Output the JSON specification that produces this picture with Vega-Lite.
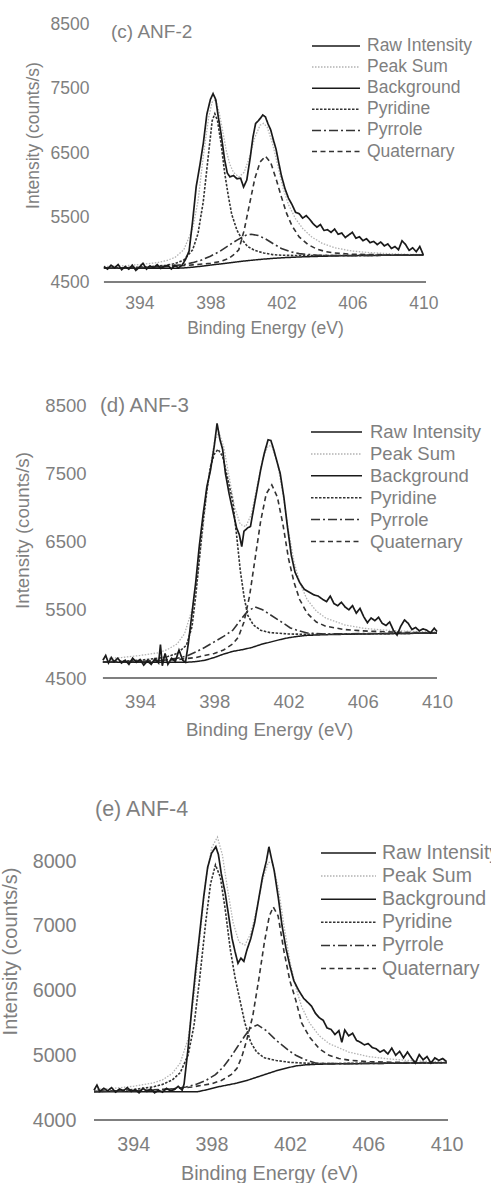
{
"$schema":"https://vega.github.io/schema/vega-lite/v6.json",
"background":"white",
"padding":{"left":0,"top":15,"right":0,"bottom":0},
"bounds":"flush",
"spacing":123,
"config":{"view":{"stroke":null},"font":"Liberation Sans"},
"resolve":{"scale":{"x":"independent","y":"independent","color":"independent","strokeDash":"independent"},"legend":{"color":"independent","strokeDash":"independent"}},
"datasets":{
"cR":[{"x":392,"y":4740},{"x":392.2,"y":4700},{"x":392.4,"y":4760},{"x":392.6,"y":4720},{"x":392.8,"y":4770},{"x":393,"y":4690},{"x":393.2,"y":4740},{"x":393.4,"y":4700},{"x":393.6,"y":4760},{"x":393.8,"y":4680},{"x":394,"y":4730},{"x":394.2,"y":4790},{"x":394.4,"y":4700},{"x":394.6,"y":4750},{"x":394.8,"y":4720},{"x":395,"y":4770},{"x":395.2,"y":4710},{"x":395.4,"y":4740},{"x":395.6,"y":4760},{"x":395.8,"y":4700},{"x":396,"y":4760},{"x":396.2,"y":4720},{"x":396.4,"y":4760},{"x":396.6,"y":4850},{"x":396.8,"y":4980},{"x":397,"y":5450},{"x":397.2,"y":5980},{"x":397.4,"y":6300},{"x":397.6,"y":6650},{"x":397.8,"y":7100},{"x":398,"y":7330},{"x":398.15,"y":7420},{"x":398.3,"y":7330},{"x":398.45,"y":7050},{"x":398.6,"y":6800},{"x":398.8,"y":6400},{"x":398.95,"y":6190},{"x":399.1,"y":6130},{"x":399.3,"y":6150},{"x":399.5,"y":6100},{"x":399.7,"y":6110},{"x":399.87,"y":5973},{"x":400.05,"y":6080},{"x":400.25,"y":6440},{"x":400.4,"y":6750},{"x":400.55,"y":6960},{"x":400.7,"y":7000},{"x":400.85,"y":7050},{"x":400.95,"y":7090},{"x":401.1,"y":7060},{"x":401.25,"y":6950},{"x":401.4,"y":6857},{"x":401.55,"y":6700},{"x":401.7,"y":6560},{"x":401.85,"y":6350},{"x":402,"y":6150},{"x":402.2,"y":5950},{"x":402.4,"y":5800},{"x":402.6,"y":5700},{"x":402.8,"y":5580},{"x":403,"y":5560},{"x":403.2,"y":5490},{"x":403.4,"y":5530},{"x":403.6,"y":5470},{"x":403.8,"y":5400},{"x":404,"y":5350},{"x":404.2,"y":5390},{"x":404.4,"y":5300},{"x":404.6,"y":5310},{"x":404.8,"y":5270},{"x":405,"y":5320},{"x":405.2,"y":5240},{"x":405.4,"y":5260},{"x":405.6,"y":5190},{"x":405.8,"y":5230},{"x":406,"y":5270},{"x":406.2,"y":5180},{"x":406.4,"y":5200},{"x":406.6,"y":5140},{"x":406.8,"y":5170},{"x":407,"y":5110},{"x":407.2,"y":5130},{"x":407.4,"y":5080},{"x":407.6,"y":5120},{"x":407.8,"y":5060},{"x":408,"y":5090},{"x":408.2,"y":5020},{"x":408.4,"y":5050},{"x":408.6,"y":5000},{"x":408.8,"y":5140},{"x":409,"y":5080},{"x":409.2,"y":4990},{"x":409.4,"y":5030},{"x":409.6,"y":4970},{"x":409.8,"y":5050},{"x":410,"y":4920}],
"cP":[{"x":392,"y":4740},{"x":393,"y":4750},{"x":394,"y":4770},{"x":395,"y":4800},{"x":395.5,"y":4830},{"x":396,"y":4880},{"x":396.5,"y":5000},{"x":397,"y":5330},{"x":397.3,"y":5750},{"x":397.6,"y":6450},{"x":397.9,"y":7050},{"x":398.1,"y":7290},{"x":398.3,"y":7330},{"x":398.5,"y":7120},{"x":398.7,"y":6830},{"x":398.9,"y":6530},{"x":399.1,"y":6320},{"x":399.3,"y":6200},{"x":399.6,"y":6130},{"x":399.9,"y":6200},{"x":400.2,"y":6430},{"x":400.5,"y":6740},{"x":400.8,"y":6930},{"x":401,"y":6960},{"x":401.2,"y":6900},{"x":401.5,"y":6650},{"x":401.8,"y":6300},{"x":402.1,"y":5950},{"x":402.4,"y":5700},{"x":402.8,"y":5480},{"x":403.2,"y":5330},{"x":403.7,"y":5200},{"x":404.3,"y":5100},{"x":405,"y":5030},{"x":406,"y":4980},{"x":407,"y":4955},{"x":408,"y":4940},{"x":409,"y":4930},{"x":410,"y":4925}],
"cB":[{"x":392,"y":4712},{"x":396,"y":4712},{"x":396.5,"y":4718},{"x":397,"y":4730},{"x":397.5,"y":4745},{"x":398,"y":4762},{"x":398.5,"y":4778},{"x":399,"y":4795},{"x":399.5,"y":4812},{"x":400,"y":4828},{"x":400.5,"y":4842},{"x":401,"y":4855},{"x":401.5,"y":4866},{"x":402,"y":4875},{"x":403,"y":4888},{"x":404,"y":4897},{"x":405,"y":4904},{"x":406,"y":4908},{"x":408,"y":4914},{"x":410,"y":4918}],
"cPy":[{"x":392,"y":4715},{"x":393,"y":4720},{"x":394,"y":4730},{"x":395,"y":4745},{"x":395.5,"y":4760},{"x":396,"y":4785},{"x":396.5,"y":4840},{"x":397,"y":5000},{"x":397.3,"y":5250},{"x":397.6,"y":5750},{"x":397.9,"y":6500},{"x":398.1,"y":7000},{"x":398.25,"y":7110},{"x":398.4,"y":7000},{"x":398.6,"y":6650},{"x":398.8,"y":6200},{"x":399,"y":5850},{"x":399.2,"y":5550},{"x":399.5,"y":5300},{"x":399.8,"y":5150},{"x":400.1,"y":5050},{"x":400.5,"y":4990},{"x":401,"y":4950},{"x":401.5,"y":4925},{"x":402,"y":4915},{"x":403,"y":4910},{"x":404,"y":4910},{"x":406,"y":4912},{"x":410,"y":4918}],
"cPr":[{"x":392,"y":4714},{"x":394,"y":4722},{"x":395,"y":4735},{"x":396,"y":4755},{"x":396.5,"y":4770},{"x":397,"y":4800},{"x":397.5,"y":4840},{"x":398,"y":4900},{"x":398.5,"y":4970},{"x":399,"y":5060},{"x":399.5,"y":5150},{"x":400,"y":5225},{"x":400.3,"y":5240},{"x":400.7,"y":5220},{"x":401.1,"y":5170},{"x":401.5,"y":5100},{"x":402,"y":5020},{"x":402.5,"y":4970},{"x":403,"y":4940},{"x":404,"y":4915},{"x":405,"y":4910},{"x":406,"y":4911},{"x":410,"y":4918}],
"cQ":[{"x":392,"y":4715},{"x":394,"y":4725},{"x":396,"y":4745},{"x":397,"y":4765},{"x":398,"y":4790},{"x":398.5,"y":4815},{"x":399,"y":4860},{"x":399.3,"y":4920},{"x":399.6,"y":5000},{"x":399.9,"y":5300},{"x":400.2,"y":5700},{"x":400.5,"y":6100},{"x":400.8,"y":6360},{"x":401.1,"y":6450},{"x":401.4,"y":6350},{"x":401.7,"y":6100},{"x":402,"y":5820},{"x":402.3,"y":5560},{"x":402.6,"y":5370},{"x":403,"y":5200},{"x":403.5,"y":5080},{"x":404,"y":5010},{"x":404.5,"y":4970},{"x":405,"y":4950},{"x":406,"y":4930},{"x":407,"y":4925},{"x":408,"y":4922},{"x":410,"y":4918}],
"dR":[{"x":392,"y":4760},{"x":392.15,"y":4830},{"x":392.3,"y":4720},{"x":392.45,"y":4800},{"x":392.6,"y":4740},{"x":392.8,"y":4790},{"x":393,"y":4720},{"x":393.2,"y":4760},{"x":393.4,"y":4700},{"x":393.6,"y":4790},{"x":393.8,"y":4730},{"x":394,"y":4770},{"x":394.2,"y":4690},{"x":394.4,"y":4750},{"x":394.6,"y":4700},{"x":394.8,"y":4780},{"x":395,"y":4720},{"x":395.1,"y":4990},{"x":395.2,"y":4680},{"x":395.35,"y":4860},{"x":395.5,"y":4700},{"x":395.7,"y":4790},{"x":395.9,"y":4740},{"x":396.1,"y":4910},{"x":396.3,"y":4760},{"x":396.45,"y":4730},{"x":396.6,"y":5000},{"x":396.8,"y":5450},{"x":397,"y":5900},{"x":397.2,"y":6450},{"x":397.4,"y":6900},{"x":397.6,"y":7300},{"x":397.8,"y":7550},{"x":398,"y":7900},{"x":398.15,"y":8230},{"x":398.3,"y":8000},{"x":398.45,"y":7850},{"x":398.6,"y":7500},{"x":398.8,"y":7200},{"x":399,"y":6950},{"x":399.2,"y":6700},{"x":399.35,"y":6600},{"x":399.48,"y":6424},{"x":399.6,"y":6650},{"x":399.8,"y":6700},{"x":399.95,"y":6720},{"x":400.1,"y":6950},{"x":400.3,"y":7250},{"x":400.5,"y":7550},{"x":400.7,"y":7800},{"x":400.9,"y":7990},{"x":401.05,"y":7980},{"x":401.2,"y":7850},{"x":401.4,"y":7650},{"x":401.55,"y":7500},{"x":401.75,"y":7150},{"x":401.95,"y":6700},{"x":402.15,"y":6300},{"x":402.35,"y":6050},{"x":402.6,"y":5900},{"x":402.85,"y":5800},{"x":403.1,"y":5760},{"x":403.35,"y":5720},{"x":403.6,"y":5700},{"x":403.85,"y":5650},{"x":404.05,"y":5620},{"x":404.25,"y":5700},{"x":404.45,"y":5590},{"x":404.65,"y":5560},{"x":404.85,"y":5610},{"x":405.05,"y":5540},{"x":405.25,"y":5500},{"x":405.45,"y":5560},{"x":405.65,"y":5450},{"x":405.85,"y":5520},{"x":406.05,"y":5400},{"x":406.25,"y":5310},{"x":406.45,"y":5380},{"x":406.65,"y":5340},{"x":406.85,"y":5390},{"x":407.05,"y":5300},{"x":407.25,"y":5270},{"x":407.45,"y":5320},{"x":407.65,"y":5200},{"x":407.85,"y":5130},{"x":408.05,"y":5260},{"x":408.25,"y":5350},{"x":408.45,"y":5300},{"x":408.65,"y":5210},{"x":408.85,"y":5240},{"x":409.05,"y":5190},{"x":409.25,"y":5220},{"x":409.45,"y":5200},{"x":409.65,"y":5160},{"x":409.85,"y":5230},{"x":410,"y":5180}],
"dP":[{"x":392,"y":4780},{"x":393,"y":4800},{"x":394,"y":4830},{"x":395,"y":4870},{"x":395.5,"y":4920},{"x":396,"y":5000},{"x":396.4,"y":5150},{"x":396.8,"y":5500},{"x":397.1,"y":6000},{"x":397.4,"y":6700},{"x":397.7,"y":7450},{"x":398,"y":7950},{"x":398.25,"y":8100},{"x":398.5,"y":7900},{"x":398.8,"y":7450},{"x":399.1,"y":7000},{"x":399.4,"y":6750},{"x":399.7,"y":6720},{"x":400,"y":6900},{"x":400.3,"y":7300},{"x":400.6,"y":7700},{"x":400.9,"y":7900},{"x":401.1,"y":7900},{"x":401.4,"y":7650},{"x":401.7,"y":7200},{"x":402,"y":6650},{"x":402.3,"y":6200},{"x":402.6,"y":5900},{"x":403,"y":5650},{"x":403.5,"y":5480},{"x":404,"y":5380},{"x":405,"y":5280},{"x":406,"y":5230},{"x":407,"y":5205},{"x":408,"y":5190},{"x":409,"y":5180},{"x":410,"y":5175}],
"dB":[{"x":392,"y":4730},{"x":396.5,"y":4730},{"x":397,"y":4740},{"x":397.5,"y":4760},{"x":398,"y":4800},{"x":398.5,"y":4850},{"x":399,"y":4890},{"x":399.5,"y":4915},{"x":400,"y":4945},{"x":400.5,"y":4990},{"x":401,"y":5025},{"x":401.5,"y":5060},{"x":402,"y":5090},{"x":402.5,"y":5110},{"x":403,"y":5125},{"x":404,"y":5135},{"x":406,"y":5145},{"x":408,"y":5152},{"x":410,"y":5158}],
"dPy":[{"x":392,"y":4735},{"x":393,"y":4745},{"x":394,"y":4760},{"x":395,"y":4790},{"x":395.5,"y":4815},{"x":396,"y":4860},{"x":396.5,"y":4980},{"x":396.8,"y":5250},{"x":397,"y":5700},{"x":397.2,"y":6250},{"x":397.4,"y":6800},{"x":397.6,"y":7250},{"x":397.8,"y":7600},{"x":398,"y":7780},{"x":398.2,"y":7850},{"x":398.45,"y":7750},{"x":398.7,"y":7450},{"x":399,"y":7080},{"x":399.2,"y":6600},{"x":399.4,"y":6080},{"x":399.6,"y":5700},{"x":399.8,"y":5420},{"x":400.1,"y":5280},{"x":400.5,"y":5200},{"x":401,"y":5165},{"x":401.5,"y":5155},{"x":402,"y":5145},{"x":403,"y":5140},{"x":404,"y":5140},{"x":406,"y":5147},{"x":410,"y":5158}],
"dPr":[{"x":392,"y":4733},{"x":394,"y":4740},{"x":395,"y":4752},{"x":396,"y":4790},{"x":396.5,"y":4820},{"x":397,"y":4880},{"x":397.5,"y":4950},{"x":398,"y":5030},{"x":398.5,"y":5110},{"x":399,"y":5200},{"x":399.5,"y":5380},{"x":399.8,"y":5480},{"x":400.2,"y":5540},{"x":400.6,"y":5500},{"x":401,"y":5430},{"x":401.4,"y":5360},{"x":401.8,"y":5290},{"x":402.1,"y":5233},{"x":402.5,"y":5195},{"x":403,"y":5160},{"x":404,"y":5145},{"x":406,"y":5150},{"x":410,"y":5158}],
"dQ":[{"x":392,"y":4735},{"x":394,"y":4745},{"x":396,"y":4770},{"x":397,"y":4800},{"x":398,"y":4860},{"x":398.5,"y":4910},{"x":399,"y":5000},{"x":399.3,"y":5100},{"x":399.6,"y":5320},{"x":399.9,"y":5700},{"x":400.2,"y":6250},{"x":400.5,"y":6800},{"x":400.8,"y":7200},{"x":401.1,"y":7330},{"x":401.4,"y":7150},{"x":401.7,"y":6750},{"x":402,"y":6250},{"x":402.3,"y":5900},{"x":402.6,"y":5650},{"x":403,"y":5450},{"x":403.5,"y":5320},{"x":404,"y":5260},{"x":405,"y":5210},{"x":406,"y":5190},{"x":408,"y":5170},{"x":410,"y":5160}],
"eR":[{"x":392,"y":4460},{"x":392.15,"y":4540},{"x":392.3,"y":4440},{"x":392.5,"y":4490},{"x":392.7,"y":4450},{"x":392.9,"y":4500},{"x":393.1,"y":4430},{"x":393.3,"y":4480},{"x":393.5,"y":4450},{"x":393.7,"y":4500},{"x":393.9,"y":4440},{"x":394.1,"y":4470},{"x":394.3,"y":4420},{"x":394.5,"y":4490},{"x":394.7,"y":4440},{"x":394.9,"y":4480},{"x":395.1,"y":4420},{"x":395.3,"y":4460},{"x":395.5,"y":4430},{"x":395.7,"y":4490},{"x":395.9,"y":4450},{"x":396.1,"y":4470},{"x":396.3,"y":4520},{"x":396.5,"y":4460},{"x":396.6,"y":4560},{"x":396.8,"y":5100},{"x":397,"y":5750},{"x":397.2,"y":6350},{"x":397.4,"y":6900},{"x":397.6,"y":7450},{"x":397.8,"y":7900},{"x":398,"y":8120},{"x":398.22,"y":8220},{"x":398.35,"y":8100},{"x":398.5,"y":7800},{"x":398.7,"y":7500},{"x":398.9,"y":7100},{"x":399.05,"y":6800},{"x":399.2,"y":6600},{"x":399.35,"y":6420},{"x":399.5,"y":6500},{"x":399.65,"y":6450},{"x":399.8,"y":6620},{"x":400,"y":6800},{"x":400.2,"y":7050},{"x":400.4,"y":7400},{"x":400.6,"y":7750},{"x":400.8,"y":8000},{"x":400.93,"y":8220},{"x":401.05,"y":8050},{"x":401.2,"y":7850},{"x":401.4,"y":7450},{"x":401.6,"y":7000},{"x":401.8,"y":6650},{"x":402,"y":6380},{"x":402.2,"y":6150},{"x":402.45,"y":6000},{"x":402.7,"y":5880},{"x":402.9,"y":5820},{"x":403.1,"y":5760},{"x":403.3,"y":5650},{"x":403.5,"y":5580},{"x":403.7,"y":5540},{"x":403.9,"y":5420},{"x":404.1,"y":5400},{"x":404.3,"y":5320},{"x":404.5,"y":5380},{"x":404.65,"y":5200},{"x":404.8,"y":5390},{"x":405,"y":5300},{"x":405.2,"y":5340},{"x":405.4,"y":5230},{"x":405.6,"y":5200},{"x":405.8,"y":5160},{"x":406,"y":5180},{"x":406.2,"y":5120},{"x":406.4,"y":5100},{"x":406.6,"y":5050},{"x":406.8,"y":5080},{"x":407,"y":5020},{"x":407.2,"y":5110},{"x":407.4,"y":5000},{"x":407.6,"y":5060},{"x":407.8,"y":4960},{"x":408,"y":5050},{"x":408.2,"y":4960},{"x":408.4,"y":4880},{"x":408.6,"y":5010},{"x":408.8,"y":4930},{"x":409,"y":4980},{"x":409.2,"y":4880},{"x":409.4,"y":4960},{"x":409.6,"y":4920},{"x":409.8,"y":4950},{"x":410,"y":4900}],
"eP":[{"x":392,"y":4470},{"x":393,"y":4490},{"x":394,"y":4520},{"x":395,"y":4570},{"x":395.5,"y":4620},{"x":396,"y":4720},{"x":396.4,"y":4880},{"x":396.8,"y":5250},{"x":397.1,"y":5900},{"x":397.4,"y":6800},{"x":397.7,"y":7700},{"x":398,"y":8200},{"x":398.3,"y":8370},{"x":398.55,"y":8100},{"x":398.8,"y":7600},{"x":399.1,"y":7050},{"x":399.4,"y":6750},{"x":399.7,"y":6700},{"x":400,"y":6880},{"x":400.3,"y":7250},{"x":400.6,"y":7700},{"x":400.9,"y":7980},{"x":401.1,"y":7980},{"x":401.4,"y":7600},{"x":401.7,"y":7000},{"x":402,"y":6450},{"x":402.3,"y":6050},{"x":402.6,"y":5750},{"x":403,"y":5500},{"x":403.5,"y":5300},{"x":404,"y":5180},{"x":405,"y":5050},{"x":406,"y":4980},{"x":407,"y":4945},{"x":408,"y":4920},{"x":409,"y":4905},{"x":410,"y":4895}],
"eB":[{"x":392,"y":4438},{"x":397.3,"y":4438},{"x":397.8,"y":4470},{"x":398.3,"y":4510},{"x":398.8,"y":4540},{"x":399.3,"y":4570},{"x":399.8,"y":4610},{"x":400.3,"y":4660},{"x":400.8,"y":4710},{"x":401.3,"y":4760},{"x":401.8,"y":4800},{"x":402.3,"y":4835},{"x":402.8,"y":4852},{"x":403.5,"y":4862},{"x":404.5,"y":4868},{"x":406,"y":4872},{"x":410,"y":4885}],
"ePy":[{"x":392,"y":4440},{"x":393,"y":4450},{"x":394,"y":4470},{"x":395,"y":4510},{"x":395.5,"y":4550},{"x":396,"y":4620},{"x":396.4,"y":4730},{"x":396.8,"y":5000},{"x":397.1,"y":5450},{"x":397.4,"y":6200},{"x":397.7,"y":7050},{"x":397.95,"y":7650},{"x":398.2,"y":7940},{"x":398.45,"y":7750},{"x":398.7,"y":7250},{"x":398.95,"y":6650},{"x":399.2,"y":6200},{"x":399.45,"y":5850},{"x":399.7,"y":5500},{"x":400,"y":5200},{"x":400.3,"y":5050},{"x":400.7,"y":4960},{"x":401.3,"y":4920},{"x":402,"y":4890},{"x":403,"y":4875},{"x":404,"y":4872},{"x":406,"y":4876},{"x":410,"y":4885}],
"ePr":[{"x":392,"y":4440},{"x":394,"y":4450},{"x":395,"y":4460},{"x":396,"y":4480},{"x":396.7,"y":4510},{"x":397.2,"y":4550},{"x":397.7,"y":4610},{"x":398.2,"y":4700},{"x":398.6,"y":4820},{"x":399,"y":4980},{"x":399.3,"y":5120},{"x":399.7,"y":5300},{"x":400,"y":5420},{"x":400.35,"y":5470},{"x":400.8,"y":5380},{"x":401.2,"y":5260},{"x":401.5,"y":5180},{"x":402,"y":5060},{"x":402.3,"y":5000},{"x":402.7,"y":4940},{"x":403.3,"y":4880},{"x":404,"y":4870},{"x":406,"y":4874},{"x":410,"y":4885}],
"eQ":[{"x":392,"y":4440},{"x":394,"y":4450},{"x":396,"y":4480},{"x":397,"y":4510},{"x":398,"y":4560},{"x":398.5,"y":4610},{"x":399,"y":4700},{"x":399.3,"y":4800},{"x":399.55,"y":4980},{"x":399.8,"y":5240},{"x":400.1,"y":5600},{"x":400.4,"y":6150},{"x":400.7,"y":6750},{"x":400.95,"y":7150},{"x":401.15,"y":7290},{"x":401.4,"y":7150},{"x":401.7,"y":6600},{"x":402,"y":6150},{"x":402.3,"y":5850},{"x":402.6,"y":5500},{"x":403,"y":5280},{"x":403.5,"y":5100},{"x":404,"y":5000},{"x":404.5,"y":4950},{"x":405,"y":4925},{"x":406,"y":4900},{"x":408,"y":4888},{"x":410,"y":4885}]
},
"vconcat":[
{
"width":332,"height":258,
"title":{"text":"(c) ANF-2","anchor":"start","frame":"group","offset":0,"baseline":"middle","dx":17,"dy":36,"fontSize":19,"fontWeight":"normal","color":"#7f7f7f","font":"Liberation Sans"},
"encoding":{
"x":{"field":"x","type":"quantitative","scale":{"domain":[391.44,410.15],"nice":false,"zero":false},"axis":{"values":[394,398,402,406,410],"format":"d","domain":false,"ticks":false,"tickSize":0,"grid":false,"labelFlush":false,"labelOverlap":false,"labelFontSize":17.5,"labelColor":"#7f7f7f","labelFont":"Liberation Sans","labelPadding":12.5,"title":"Binding Energy (eV)","titleFontSize":17.5,"titleColor":"#7f7f7f","titleFont":"Liberation Sans","titleFontWeight":"normal","titleX":171,"titleY":46,"titleAlign":"center","titleBaseline":"middle"}},
"y":{"field":"y","type":"quantitative","scale":{"domain":[4500,8500],"nice":false,"zero":false},"axis":{"values":[4500,5500,6500,7500,8500],"format":"d","domain":false,"ticks":false,"tickSize":0,"grid":false,"labelFlush":false,"labelFontSize":17.5,"labelColor":"#7f7f7f","labelFont":"Liberation Sans","labelPadding":5,"title":"Intensity (counts/s)","titleFontSize":17.5,"titleColor":"#7f7f7f","titleFont":"Liberation Sans","titleFontWeight":"normal","titleX":-61,"titleY":111,"titleAngle":-90,"titleAlign":"center","titleBaseline":"middle"}}
},
"layer":[
{"data":{"name":"cP"},"mark":{"type":"line","strokeWidth":1.3},"encoding":{
"color":{"datum":"Peak Sum","type":"nominal","scale":{"domain":["Raw Intensity","Peak Sum","Background","Pyridine","Pyrrole","Quaternary"],"range":["#1a1a1a","#b3b3b3","#1a1a1a","#333333","#333333","#333333"]},"legend":{"orient":"none","legendX":233.25,"legendY":13.25,"title":null,"padding":0,"symbolType":"M-4.8,0H4.8","symbolSize":100,"symbolStrokeWidth":1.5,"labelFontSize":17.5,"labelFont":"Liberation Sans","labelColor":"#7f7f7f","labelOffset":22.25,"rowPadding":2.1,"labelLimit":300}},
"strokeDash":{"datum":"Peak Sum","type":"nominal","scale":{"domain":["Raw Intensity","Peak Sum","Background","Pyridine","Pyrrole","Quaternary"],"range":[[1,0],[1.5,1.5],[1,0],[2.5,1.5],[9,3,2,3],[5,3.5]]},"legend":{"orient":"none","legendX":233.25,"legendY":13.25,"title":null,"padding":0,"symbolType":"M-4.8,0H4.8","symbolSize":100,"symbolStrokeWidth":1.5,"labelFontSize":17.5,"labelFont":"Liberation Sans","labelColor":"#7f7f7f","labelOffset":22.25,"rowPadding":2.1,"labelLimit":300}}}},
{"data":{"name":"cB"},"mark":{"type":"line","strokeWidth":1.5},"encoding":{"color":{"datum":"Background","type":"nominal"},"strokeDash":{"datum":"Background","type":"nominal"}}},
{"data":{"name":"cPy"},"mark":{"type":"line","strokeWidth":1.6},"encoding":{"color":{"datum":"Pyridine","type":"nominal"},"strokeDash":{"datum":"Pyridine","type":"nominal"}}},
{"data":{"name":"cPr"},"mark":{"type":"line","strokeWidth":1.6},"encoding":{"color":{"datum":"Pyrrole","type":"nominal"},"strokeDash":{"datum":"Pyrrole","type":"nominal"}}},
{"data":{"name":"cQ"},"mark":{"type":"line","strokeWidth":1.6},"encoding":{"color":{"datum":"Quaternary","type":"nominal"},"strokeDash":{"datum":"Quaternary","type":"nominal"}}},
{"data":{"name":"cR"},"mark":{"type":"line","strokeWidth":1.7},"encoding":{"color":{"datum":"Raw Intensity","type":"nominal"},"strokeDash":{"datum":"Raw Intensity","type":"nominal"}}},
{"data":{"values":[{"x":392,"x2":410.15,"y":4500}]},"mark":{"type":"rule","color":"#555555","strokeWidth":1.5},"encoding":{"x2":{"field":"x2"}}}
]
},
{
"width":343,"height":273,
"title":{"text":"(d) ANF-3","anchor":"start","frame":"group","offset":0,"baseline":"middle","dx":6,"dy":30,"fontSize":20.5,"fontWeight":"normal","color":"#7f7f7f","font":"Liberation Sans"},
"encoding":{
"x":{"field":"x","type":"quantitative","scale":{"domain":[391.52,410],"nice":false,"zero":false},"axis":{"values":[394,398,402,406,410],"format":"d","domain":false,"ticks":false,"tickSize":0,"grid":false,"labelFlush":false,"labelOverlap":false,"labelFontSize":18.5,"labelColor":"#7f7f7f","labelFont":"Liberation Sans","labelPadding":14,"title":"Binding Energy (eV)","titleFontSize":18.7,"titleColor":"#7f7f7f","titleFont":"Liberation Sans","titleFontWeight":"normal","titleX":175,"titleY":51,"titleAlign":"center","titleBaseline":"middle"}},
"y":{"field":"y","type":"quantitative","scale":{"domain":[4500,8500],"nice":false,"zero":false},"axis":{"values":[4500,5500,6500,7500,8500],"format":"d","domain":false,"ticks":false,"tickSize":0,"grid":false,"labelFlush":false,"labelFontSize":18.5,"labelColor":"#7f7f7f","labelFont":"Liberation Sans","labelPadding":8,"title":"Intensity (counts/s)","titleFontSize":18.7,"titleColor":"#7f7f7f","titleFont":"Liberation Sans","titleFontWeight":"normal","titleX":-72,"titleY":125,"titleAngle":-90,"titleAlign":"center","titleBaseline":"middle"}}
},
"layer":[
{"data":{"name":"dP"},"mark":{"type":"line","strokeWidth":1.3},"encoding":{
"color":{"datum":"Peak Sum","type":"nominal","scale":{"domain":["Raw Intensity","Peak Sum","Background","Pyridine","Pyrrole","Quaternary"],"range":["#1a1a1a","#b3b3b3","#1a1a1a","#333333","#333333","#333333"]},"legend":{"orient":"none","legendX":233.25,"legendY":17.75,"title":null,"padding":0,"symbolType":"M-5.1,0H5.1","symbolSize":100,"symbolStrokeWidth":1.5,"labelFontSize":18.5,"labelFont":"Liberation Sans","labelColor":"#7f7f7f","labelOffset":24.25,"rowPadding":2.9,"labelLimit":300}},
"strokeDash":{"datum":"Peak Sum","type":"nominal","scale":{"domain":["Raw Intensity","Peak Sum","Background","Pyridine","Pyrrole","Quaternary"],"range":[[1,0],[1.5,1.5],[1,0],[2.5,1.5],[9,3,2,3],[5,3.5]]},"legend":{"orient":"none","legendX":233.25,"legendY":17.75,"title":null,"padding":0,"symbolType":"M-5.1,0H5.1","symbolSize":100,"symbolStrokeWidth":1.5,"labelFontSize":18.5,"labelFont":"Liberation Sans","labelColor":"#7f7f7f","labelOffset":24.25,"rowPadding":2.9,"labelLimit":300}}}},
{"data":{"name":"dB"},"mark":{"type":"line","strokeWidth":1.5},"encoding":{"color":{"datum":"Background","type":"nominal"},"strokeDash":{"datum":"Background","type":"nominal"}}},
{"data":{"name":"dPy"},"mark":{"type":"line","strokeWidth":1.6},"encoding":{"color":{"datum":"Pyridine","type":"nominal"},"strokeDash":{"datum":"Pyridine","type":"nominal"}}},
{"data":{"name":"dPr"},"mark":{"type":"line","strokeWidth":1.6},"encoding":{"color":{"datum":"Pyrrole","type":"nominal"},"strokeDash":{"datum":"Pyrrole","type":"nominal"}}},
{"data":{"name":"dQ"},"mark":{"type":"line","strokeWidth":1.6},"encoding":{"color":{"datum":"Quaternary","type":"nominal"},"strokeDash":{"datum":"Quaternary","type":"nominal"}}},
{"data":{"name":"dR"},"mark":{"type":"line","strokeWidth":1.7},"encoding":{"color":{"datum":"Raw Intensity","type":"nominal"},"strokeDash":{"datum":"Raw Intensity","type":"nominal"}}},
{"data":{"values":[{"x":392,"x2":410,"y":4500}]},"mark":{"type":"rule","color":"#555555","strokeWidth":1.5},"encoding":{"x2":{"field":"x2"}}}
]
},
{
"width":354,"height":319,
"title":{"text":"(e) ANF-4","anchor":"start","frame":"group","offset":0,"baseline":"middle","dx":1,"dy":30,"fontSize":21.5,"fontWeight":"normal","color":"#7f7f7f","font":"Liberation Sans"},
"encoding":{
"x":{"field":"x","type":"quantitative","scale":{"domain":[392,410.07],"nice":false,"zero":false},"axis":{"values":[394,398,402,406,410],"format":"d","domain":false,"ticks":false,"tickSize":0,"grid":false,"labelFlush":false,"labelOverlap":false,"labelFontSize":19.7,"labelColor":"#7f7f7f","labelFont":"Liberation Sans","labelPadding":14.5,"title":"Binding Energy (eV)","titleFontSize":19.8,"titleColor":"#7f7f7f","titleFont":"Liberation Sans","titleFontWeight":"normal","titleX":175,"titleY":53,"titleAlign":"center","titleBaseline":"middle"}},
"y":{"field":"y","type":"quantitative","scale":{"domain":[4000,8927],"nice":false,"zero":false},"axis":{"values":[4000,5000,6000,7000,8000],"format":"d","domain":false,"ticks":false,"tickSize":0,"grid":false,"labelFlush":false,"labelFontSize":19.7,"labelColor":"#7f7f7f","labelFont":"Liberation Sans","labelPadding":18,"title":"Intensity (counts/s)","titleFontSize":20,"titleColor":"#7f7f7f","titleFont":"Liberation Sans","titleFontWeight":"normal","titleX":-84,"titleY":150,"titleAngle":-90,"titleAlign":"center","titleBaseline":"middle"}}
},
"layer":[
{"data":{"name":"eP"},"mark":{"type":"line","strokeWidth":1.3},"encoding":{
"color":{"datum":"Peak Sum","type":"nominal","scale":{"domain":["Raw Intensity","Peak Sum","Background","Pyridine","Pyrrole","Quaternary"],"range":["#1a1a1a","#b3b3b3","#1a1a1a","#333333","#333333","#333333"]},"legend":{"orient":"none","legendX":244.75,"legendY":42.25,"title":null,"padding":0,"symbolType":"M-5.5,0H5.5","symbolSize":100,"symbolStrokeWidth":1.5,"labelFontSize":19.5,"labelFont":"Liberation Sans","labelColor":"#7f7f7f","labelOffset":23.75,"rowPadding":2.1,"labelLimit":300}},
"strokeDash":{"datum":"Peak Sum","type":"nominal","scale":{"domain":["Raw Intensity","Peak Sum","Background","Pyridine","Pyrrole","Quaternary"],"range":[[1,0],[1.5,1.5],[1,0],[2.5,1.5],[9,3,2,3],[5,3.5]]},"legend":{"orient":"none","legendX":244.75,"legendY":42.25,"title":null,"padding":0,"symbolType":"M-5.5,0H5.5","symbolSize":100,"symbolStrokeWidth":1.5,"labelFontSize":19.5,"labelFont":"Liberation Sans","labelColor":"#7f7f7f","labelOffset":23.75,"rowPadding":2.1,"labelLimit":300}}}},
{"data":{"name":"eB"},"mark":{"type":"line","strokeWidth":1.5},"encoding":{"color":{"datum":"Background","type":"nominal"},"strokeDash":{"datum":"Background","type":"nominal"}}},
{"data":{"name":"ePy"},"mark":{"type":"line","strokeWidth":1.6},"encoding":{"color":{"datum":"Pyridine","type":"nominal"},"strokeDash":{"datum":"Pyridine","type":"nominal"}}},
{"data":{"name":"ePr"},"mark":{"type":"line","strokeWidth":1.6},"encoding":{"color":{"datum":"Pyrrole","type":"nominal"},"strokeDash":{"datum":"Pyrrole","type":"nominal"}}},
{"data":{"name":"eQ"},"mark":{"type":"line","strokeWidth":1.6},"encoding":{"color":{"datum":"Quaternary","type":"nominal"},"strokeDash":{"datum":"Quaternary","type":"nominal"}}},
{"data":{"name":"eR"},"mark":{"type":"line","strokeWidth":1.7},"encoding":{"color":{"datum":"Raw Intensity","type":"nominal"},"strokeDash":{"datum":"Raw Intensity","type":"nominal"}}},
{"data":{"values":[{"x":392,"x2":410.07,"y":4000}]},"mark":{"type":"rule","color":"#555555","strokeWidth":1.5},"encoding":{"x2":{"field":"x2"}}}
]
}
]
}
